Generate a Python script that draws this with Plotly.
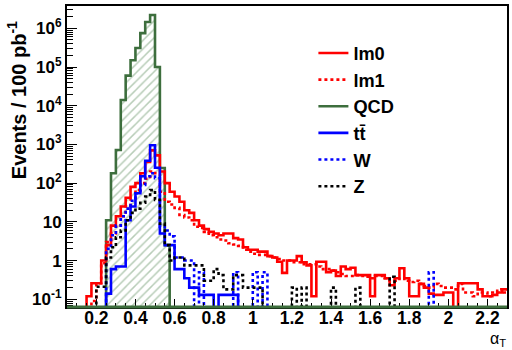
import numpy as np
import plotly.graph_objects as go

# ---- histogram binning (alpha_T), 92 bins of width 0.025 from 0.0 ----
BIN_LO = 0.0
BIN_W = 0.025
N_BINS = 92

# ---- per-bin contents (events / 100 pb^-1) ----
lm0 = [0, 0, 0, 0, 0, 0, 0.12, 0.26, 0.26, 1.0,
       2.5, 8, 14, 25, 42, 80, 100, 180, 350, 700,
       520, 200, 100, 60, 45, 33, 20, 17, 11, 8,
       6.5, 5.5, 5, 4.5, 5, 5, 3.8, 3.5, 2.2, 1.9,
       1.9, 1.7, 1.7, 1.3, 1.2, 0.93, 0.48, 1.0, 1.0, 1.3,
       0.9, 0.75, 0.12, 0.93, 0.93, 0.5, 0.55, 0.4, 0.7, 0.6,
       0.65, 0.42, 0.42, 0.42, 0.12, 0.42, 0.42, 0.35, 0.23, 0.35,
       0.63, 0.35, 0.12, 0.12, 0.25, 0.2, 0.14, 0.13, 0.13, 0.15,
       0.15, 0, 0.26, 0.26, 0.26, 0.26, 0.18, 0.12, 0.12, 0.13,
       0.15, 0.18]

lm1 = [0, 0, 0, 0, 0, 0, 0, 0.09, 0.26, 0.85,
       3, 5, 8, 14, 25, 40, 66, 100, 130, 200,
       180, 60, 33, 28, 23, 15, 13, 11, 7.5, 7,
       5.5, 4.5, 4, 3.5, 3.3, 2.8, 2.6, 2.4, 1.9, 1.7,
       1.5, 1.4, 1.4, 1.3, 1.2, 1.1, 1.0, 1.0, 0.9, 0.9,
       0.8, 0.8, 0.8, 0.7, 0.6, 0.6, 0.55, 0.5, 0.45, 0.4,
       0.4, 0.42, 0.4, 0.38, 0.35, 0.4, 0.4, 0.35, 0.3, 0.3,
       0.35, 0.3, 0.28, 0.3, 0.25, 0.22, 0.2, 0.25, 0.22, 0.2,
       0.2, 0.18, 0.25, 0.15, 0.15, 0.12, 0.15, 0.15, 0.12, 0.15,
       0.18, 0.15]

qcd = [0, 0, 0, 0, 0, 0, 0, 0, 0, 0,
       11, 180, 720, 14000, 60000, 150000, 310000, 750000, 1450000, 2200000,
       100000, 245, 2.5, 0, 0, 0, 0, 0, 0, 0,
       0, 0, 0, 0, 0, 0, 0, 0, 0, 0,
       0, 0, 0, 0, 0, 0, 0, 0, 0, 0,
       0, 0, 0, 0, 0, 0, 0, 0, 0, 0,
       0, 0, 0, 0, 0, 0, 0, 0, 0, 0,
       0, 0, 0, 0, 0, 0, 0, 0, 0, 0,
       0, 0, 0, 0, 0, 0, 0, 0, 0, 0,
       0, 0]

ttbar = [0, 0, 0, 0, 0, 0, 0, 0, 0, 0,
         0.14, 0.6, 0.7, 0.7, 11, 25, 55, 150, 380, 950,
         250, 5, 2.5, 2.5, 0.6, 0.6, 0.35, 0.2, 0.2, 0.13,
         0.13, 0.13, 0, 0.13, 0.13, 0.13, 0.13, 0, 0, 0,
         0, 0, 0, 0, 0, 0, 0, 0, 0, 0,
         0, 0, 0, 0, 0, 0, 0, 0, 0, 0,
         0, 0, 0, 0, 0, 0, 0, 0, 0, 0,
         0, 0, 0, 0, 0, 0, 0, 0, 0, 0,
         0, 0, 0, 0, 0, 0, 0, 0, 0, 0,
         0, 0]

wjets = [0, 0, 0, 0, 0, 0, 0, 0, 0, 0,
         2, 4.5, 8, 14, 22, 35, 55, 90, 150, 180,
         135, 7.5, 6, 4.2, 1.2, 1.2, 1.0, 1.0, 0, 0.5,
         0, 0, 0, 0, 0, 0, 0.5, 0, 0, 0,
         0.5, 0, 0.5, 0, 0, 0, 0, 0, 0, 0,
         0, 0, 0, 0, 0, 0, 0, 0, 0, 0,
         0, 0, 0, 0, 0, 0, 0, 0, 0, 0,
         0, 0, 0, 0, 0, 0, 0.5, 0, 0, 0,
         0, 0, 0, 0, 0, 0, 0, 0, 0, 0,
         0, 0]

zjets = [0, 0, 0, 0, 0, 0, 0, 0, 0.21, 0.21,
         1.2, 2.2, 4, 6, 11, 17, 22, 31, 45, 66,
         37, 9, 2.5, 1.0, 1.2, 1.2, 0.75, 0.75, 0.75, 0.75,
         0.3, 0.3, 0.6, 0.42, 0.18, 0.18, 0.42, 0.42, 0.2, 0.2,
         0.2, 0.2, 0, 0, 0, 0, 0, 0, 0.2, 0,
         0.2, 0, 0, 0, 0, 0, 0.2, 0, 0, 0,
         0, 0.2, 0, 0, 0, 0, 0, 0, 0.38, 0,
         0, 0, 0, 0, 0, 0, 0, 0, 0, 0,
         0, 0, 0, 0, 0, 0, 0, 0, 0, 0,
         0, 0]

y_tick_vals = [0.1, 1, 10, 100, 1e3, 1e4, 1e5, 1e6]
y_tick_text = ["10<sup>-1</sup>", "1", "10", "10<sup>2</sup>", "10<sup>3</sup>",
               "10<sup>4</sup>", "10<sup>5</sup>", "10<sup>6</sup>"]

# ---- styling ----
FONT = "Liberation Sans, Arial, sans-serif"
RED = "#ff0000"
GREEN = "#3d6e3d"
BLUE = "#0000ff"
BLACK = "#000000"
HATCH = "#6f9a6f"
LW = 2.6
FLOOR = 1e-4  # empty bins are drawn down below the visible range

edges = BIN_LO + BIN_W * np.arange(N_BINS + 1)
centers = 0.5 * (edges[:-1] + edges[1:])


def step_xy(vals):
    y = [v if v > 0 else FLOOR for v in vals]
    return list(edges), y + [y[-1]]


fig = go.Figure()

# QCD hatched fill
fig.add_trace(go.Bar(
    x=centers, y=[v if v > 0 else None for v in qcd], width=BIN_W,
    marker=dict(color="white", line=dict(width=0),
                pattern=dict(shape="/", fgcolor=HATCH, bgcolor="white",
                             size=6, solidity=0.25)),
    showlegend=False, hoverinfo="skip"))

series = [
    ("QCD", qcd, GREEN, "solid", 3),
    ("lm0", lm0, RED, "solid", 1),
    ("lm1", lm1, RED, "dot", 2),
    ("t<span>t&#772;</span>", ttbar, BLUE, "solid", 4),
    ("W", wjets, BLUE, "dot", 5),
    ("Z", zjets, BLACK, "dot", 6),
]
for name, vals, col, dash, rank in series:
    xs, ys = step_xy(vals)
    fig.add_trace(go.Scatter(
        x=xs, y=ys, mode="lines", name=name, legendrank=rank,
        line=dict(color=col, width=LW, dash=dash, shape="hv")))

# green baseline of the QCD histogram along the x axis
fig.add_shape(type="line", xref="paper", yref="paper", x0=0, x1=1, y0=0, y1=0,
              line=dict(color=GREEN, width=3))

minor_y = [k * 10.0 ** n for n in range(-2, 7) for k in range(2, 10)]

fig.update_layout(
    width=512, height=350,
    margin=dict(l=67, r=3, t=6, b=43),
    paper_bgcolor="white", plot_bgcolor="white",
    bargap=0, barmode="overlay",
    font=dict(family=FONT, color="black"),
    showlegend=True,
    legend=dict(x=0.56, y=0.905, xanchor="left", yanchor="top",
                bgcolor="rgba(0,0,0,0)", borderwidth=0, itemwidth=30,
                font=dict(family=FONT, size=18.2, weight=700, color="black"),
                tracegroupgap=0),
    xaxis=dict(range=[0.05, 2.3], tick0=0, dtick=0.2, ticks="inside",
               ticklen=8, tickwidth=1, tickcolor="black",
               minor=dict(ticks="inside", dtick=0.05, ticklen=4, tickcolor="black"),
               showline=True, linecolor="black", linewidth=2, mirror=True,
               showgrid=False, zeroline=False, ticklabelstandoff=-6,
               tickfont=dict(family=FONT, size=17.5, weight=700)),
    yaxis=dict(type="log", range=[-1.2, 6.576], tickmode="array",
               tickvals=y_tick_vals, ticktext=y_tick_text,
               ticks="inside", ticklen=10, tickwidth=1, tickcolor="black",
               minor=dict(ticks="inside", tickmode="array", tickvals=minor_y,
                          ticklen=6, tickcolor="black"),
               showline=True, linecolor="black", linewidth=2, mirror=True,
               showgrid=False, zeroline=False,
               tickfont=dict(family=FONT, size=17, weight=700)),
    annotations=[
        dict(text="Events / 100 pb<sup>-1</sup>", textangle=-90,
             xref="paper", yref="paper", x=-0.113, y=0.688,
             xanchor="center", yanchor="middle", showarrow=False,
             font=dict(family=FONT, size=20, weight=700)),
        dict(text="α<sub>T</sub>", xref="paper", yref="paper",
             x=1.0, y=-0.1429, xanchor="right", yanchor="bottom",
             showarrow=False, borderpad=0, font=dict(family=FONT, size=16)),
    ],
)

fig.write_html("out.html",
               config={"displayModeBar": False},
               post_script="document.body.style.margin='0';"
                           "document.body.style.overflow='hidden';")
